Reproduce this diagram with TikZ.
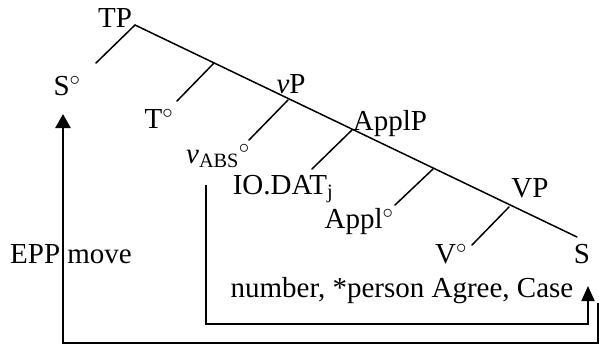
\documentclass[tikz,border=0pt]{standalone}
\usepackage{fontspec}
\setmainfont{Liberation Serif}
\usetikzlibrary{arrows.meta,
                positioning}
\tikzstyle{lbl} = [inner sep=0pt, anchor=base, font=\fontsize{29}{34}\selectfont]
\tikzstyle{branch} = [line width=1.5pt, line cap=round]
\tikzstyle{agree} = [line width=1.9pt, -{Triangle[length=15pt, width=13pt]}]
\tikzstyle{epp} = [line width=2.6pt, -{Triangle[length=14pt, width=15pt]}]

\begin{document}
\begin{tikzpicture}[x=1pt, y=-1pt]
        \useasboundingbox (0,0) rectangle (599,354);
        	% spine of the tree
        	\coordinate (tp) at (135,25);
			\coordinate (tbar) at (214,63);
			\coordinate (vp) at (288,100);
			\coordinate (applp) at (352,130);
			\coordinate (applbar) at (433,169);
			\coordinate (vpn) at (509,207);
			\coordinate (sobj) at (577,237);
			% ends of the left branches
			\coordinate (sdegend) at (96,63);
			\coordinate (tdegend) at (177,101);
			\coordinate (vabsend) at (249,140);
			\coordinate (ioend) at (312,169);
			\coordinate (appldegend) at (395,205);
			\coordinate (vdegend) at (472,245);
			\draw [branch] (tp) -- (sobj);
			\draw [branch] (tp) -- (sdegend);
			\draw [branch] (tbar) -- (tdegend);
			\draw [branch] (vp) -- (vabsend);
			\draw [branch] (applp) -- (ioend);
			\draw [branch] (applbar) -- (appldegend);
			\draw [branch] (vpn) -- (vdegend);
			% 
			\node (tplbl) [lbl] at (115,27) {TP};
			\node (sdeg) [lbl] at (67,95) {S$^\circ$};
			\node (tdeg) [lbl] at (159,128) {T$^\circ$};
			\node (vplbl) [lbl] at (291,93) {\textit{v}P};
			\node (vabs) [lbl] at (218,163) {\textit{v}\textsubscript{ABS}$^\circ$};
			\node (appllbl) [lbl] at (390,130) {ApplP};
			\node (iodat) [lbl] at (283,194) {IO.DAT\textsubscript{j}};
			\node (appldeg) [lbl] at (359,228) {Appl$^\circ$};
			\node (vplbl2) [lbl] at (530,197) {VP};
			\node (vdeg) [lbl] at (451,263) {V$^\circ$};
			\node (slbl) [lbl] at (582,263) {S};
			\node (agreelbl) [lbl] at (402,297) {number, *person Agree, Case};
			\node (epplbl) [lbl] at (71,263) {EPP move};
			% 
			\coordinate (agrfrom) at (206,185);
			\coordinate (agrbottom) at (206,324);
			\coordinate (agrto) at (588,286);
			\coordinate (eppfrom) at (598,303);
			\coordinate (eppbottom) at (598,343);
			\coordinate (eppto) at (63,114);
			\draw [agree] (agrfrom) -- (agrbottom) -| (agrto);
			\draw [epp] (eppfrom) -- (eppbottom) -| (eppto);
        \end{tikzpicture}
\end{document}
